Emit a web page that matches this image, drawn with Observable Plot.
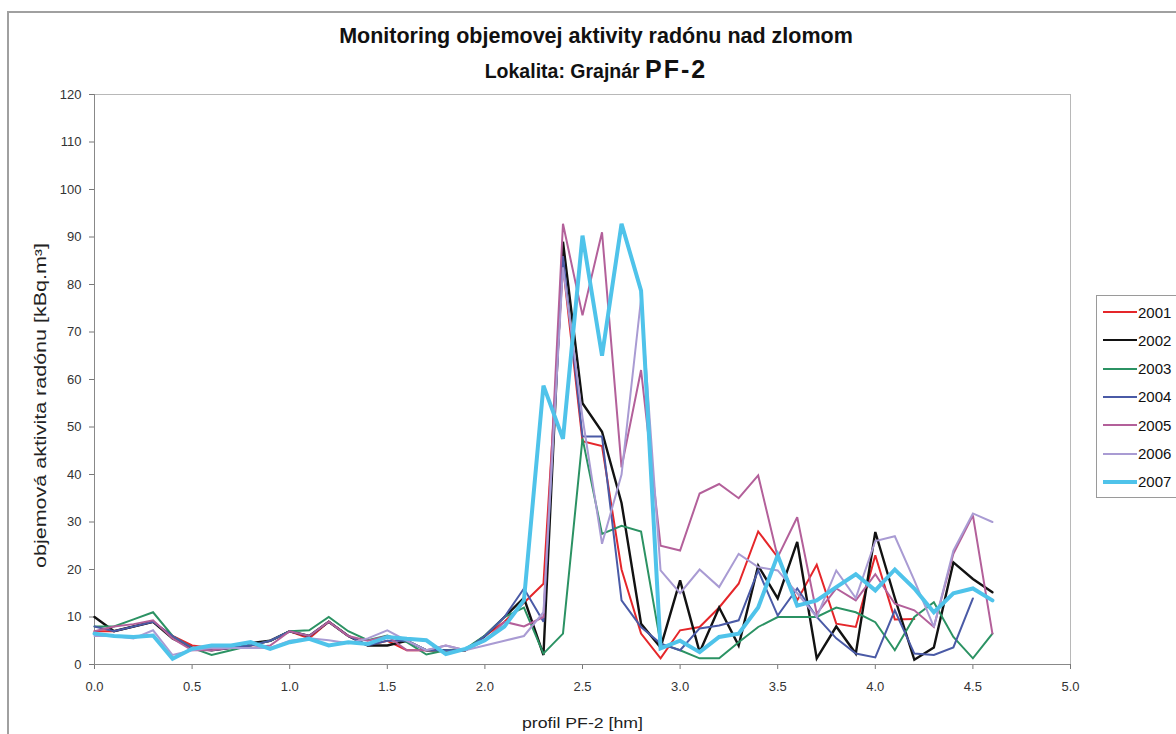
<!DOCTYPE html>
<html>
<head>
<meta charset="utf-8">
<script src="https://cdn.jsdelivr.net/npm/d3@7"></script>
<script src="https://cdn.jsdelivr.net/npm/@observablehq/plot@0.6"></script>
<style>
  html, body { margin: 0; padding: 0; background: #fff; width: 1176px; height: 734px; overflow: hidden; }
  body { font-family: "Liberation Sans", Arial, sans-serif; position: relative; }
  #frame { position: absolute; left: 7px; top: 11px; width: 1200px; height: 760px; border-left: 2px solid #a0a0a0; border-top: 2px solid #a0a0a0; }
  #titles { position: absolute; left: 16px; top: 0; width: 1160px; text-align: center; font-weight: bold; color: #111; }
  #t1 { position: absolute; left: 0; right: 0; top: 24px; font-size: 21.5px; }
  #t2 { position: absolute; left: 0; right: 0; top: 55px; font-size: 19.5px; }
  #t2 span { font-size: 25px; letter-spacing: 2px; }
  #chart { position: absolute; left: 0; top: 84px; }
  #legend { position: absolute; left: 1096px; top: 295px; width: 120px; height: 201px; border: 1px solid #9a9a9a; background: #fff; }
  .item { position: absolute; left: 6px; height: 20px; display: flex; align-items: center; font-size: 15px; color: #111; }
  .item .sw { width: 34px; margin-right: 1px; }
</style>
</head>
<body>
<div id="frame"></div>
<div id="titles">
  <div id="t1">Monitoring objemovej aktivity radónu nad zlomom</div>
  <div id="t2">Lokalita: Grajnár <span>PF-2</span></div>
</div>
<div id="chart"></div>
<div id="legend"></div>
<script>
// profile positions [hm]
const profil = [0.0,0.1,0.2,0.3,0.4,0.5,0.6,0.7,0.8,0.9,
                1.0,1.1,1.2,1.3,1.4,1.5,1.6,1.7,1.8,1.9,
                2.0,2.1,2.2,2.3,2.4,2.5,2.6,2.7,2.8,2.9,
                3.0,3.1,3.2,3.3,3.4,3.5,3.6,3.7,3.8,3.9,
                4.0,4.1,4.2,4.3,4.4,4.5,4.6];

const years = ["2001","2002","2003","2004","2005","2006","2007"];

const y2001 = [7,7,8,9,6,4,3.5,3.5,4,5, 7,5.5,9,6,4,5,3,3,3,3, 6,9,13,17,84,47,46,20,6.5,1.3, 7.2,7.9,12,17,28,22.6,13.5,21,8.6,7.9, 23,9.5,9.6,null,null,null,null];
const y2002 = [10,7,8,9,5.5,3.5,3,3.5,4.5,5, 7,6,9,6,4,4,5,3,3,3, 6,10,14,2,89,55,49,34,8.6,3.6, 17.7,2.6,12,4,20.8,13.9,25.8,1.3,8,2.3, 27.9,14,1,3.6,21.5,18,15.2];
const y2003 = [8,8,9.5,11,6,3.5,2,3,4,5, 7,7.2,10,7,5.1,6.1,4.7,2.1,3,3.3, 6.1,10,12,2.3,6.5,47.6,27.5,29.2,28,4.4, 3,1.3,1.3,4.7,7.9,10,10,10,12,11, 8.9,3,10,13.1,5.8,1.3,6.5];
const y2004 = [8,7,8,9,6,3.5,3,3.5,4,5, 7,6,9,6,4,5,5,3,3,3, 6,10,16,9,86,48,48,13.5,7.9,4.4, 3,7.6,8.2,9.3,19.8,10.3,16,10,5.5,2.3, 1.5,11.4,2.3,2,3.6,13.9,null];
const y2005 = [7,8,8.5,9.3,5.5,3,3,3.5,3.5,4, 7,6,9,6,5,6,3,3,4,3, 5,9,8,10,92.8,73.5,91,41.5,62,25, 24,36,38,35,39.8,22.6,31,10.7,16,13.5, 19,12.8,11.4,7.9,23.3,31.4,6.5];
const y2006 = [6,6,5.5,7.2,2,3,3.5,3.5,3.5,3.5, 5,5.5,5.1,4.5,5.5,7.2,5,3,4,3, 4,5,6,11,83.6,52,25.4,40,77,19.8, 15,20,16.3,23.3,20.5,19.8,15,10,19.8,14, 26,27,17.7,7.9,24,31.8,30];
const y2007 = [6.5,6,5.8,6.1,1.2,3.3,4,4,4.7,3.3, 4.7,5.4,4,4.7,4.3,5.8,5.4,5.1,2.2,3.3, 5.1,8,13.5,58.7,47.5,90.3,65,92.8,78.7,3.4, 5,2.6,5.8,6.5,12,23,12.4,13.5,16.3,19, 15.6,20,16,11,15,16,13.5];

const xTicks = [0.0,0.5,1.0,1.5,2.0,2.5,3.0,3.5,4.0,4.5,5.0];
const yTicks = [0,10,20,30,40,50,60,70,80,90,100,110,120];

const seriesValues = [y2001,y2002,y2003,y2004,y2005,y2006,y2007];
const colors = ["#e5262a","#121212","#2b9263","#4a5aa6","#b3609a","#a99bd3","#4fc3ea"];
const widths = [2,2.4,2,2,2,2,4];

const tables = seriesValues.map((vals, k) =>
  profil.map((x, i) => ({year: years[k], x, v: vals[i]})).filter(d => d.v != null)
);

const chart = Plot.plot({
  width: 1176,
  height: 650,
  marginLeft: 94,
  marginRight: 106,
  marginTop: 10,
  marginBottom: 70,
  style: {fontFamily: "'Liberation Sans', Arial, sans-serif", fontSize: "13px", color: "#333", background: "transparent", overflow: "visible"},
  x: {domain: [0, 5]},
  y: {domain: [0, 120]},
  marks: [
    Plot.frame({stroke: "#b8b8b8", strokeWidth: 1}),
    Plot.axisX({ticks: xTicks, tickFormat: d3.format(".1f"), tickSize: 5, tickPadding: 12, stroke: "#777",
      label: "profil PF-2 [hm]", labelAnchor: "center", labelOffset: 63, labelArrow: "none", fontSize: 13}),
    Plot.axisY({ticks: yTicks, tickSize: 5, tickPadding: 8, stroke: "#777",
      label: "objemová aktivita radónu [kBq.m³]", labelAnchor: "center", labelOffset: 60, labelArrow: "none", fontSize: 13}),
    Plot.ruleY([0], {stroke: "#888"}),
    Plot.ruleX([0], {stroke: "#888"}),
    ...tables.map((t, k) => Plot.line(t, {x: "x", y: "v", stroke: colors[k], strokeWidth: widths[k], strokeLinejoin: "miter", strokeMiterlimit: 3}))
  ]
});
const xl = chart.querySelector("[aria-label='x-axis label'] text");
if (xl) { xl.style.fontSize = "15px"; xl.setAttribute("fill", "#222"); xl.setAttribute("textLength", "121"); xl.setAttribute("lengthAdjust", "spacingAndGlyphs"); }
const ylg = chart.querySelector("[aria-label='y-axis label']");
const yl = chart.querySelector("[aria-label='y-axis label'] text");
if (yl) { yl.style.fontSize = "16px"; yl.setAttribute("fill", "#222"); yl.setAttribute("textLength", "325"); yl.setAttribute("lengthAdjust", "spacingAndGlyphs"); }
if (ylg) { ylg.setAttribute("transform", ((ylg.getAttribute("transform") || "") + " translate(0,26)").trim()); }
document.getElementById("chart").appendChild(chart);

// legend
const legend = document.getElementById("legend");
years.forEach((y, k) => {
  const it = document.createElement("div");
  it.className = "item";
  it.style.top = (6 + k * 28.3) + "px";
  const sw = document.createElement("div");
  sw.className = "sw";
  sw.style.borderTop = widths[k] + "px solid " + colors[k];
  it.appendChild(sw);
  const tx = document.createElement("span");
  tx.textContent = y;
  it.appendChild(tx);
  legend.appendChild(it);
});
</script>
</body>
</html>
